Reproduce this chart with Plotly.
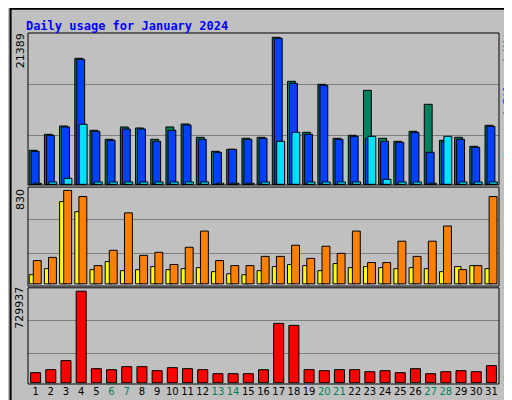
import plotly.graph_objects as go

days = list(range(1, 32))
hits = [4947, 7275, 8488, 18333, 7857, 6548, 8342, 8197, 6548, 8342, 8779, 6839, 4802, 5093, 6693, 6839,
        21389, 14987, 7566, 14550, 6693, 7130, 13677, 6693, 6257, 7712, 11640, 6402, 6839, 5529, 8585]
files = [4802, 7130, 8342, 18188, 7712, 6402, 8051, 8051, 6257, 7857, 8633, 6548, 4656, 5093, 6548, 6693,
         21243, 14696, 7275, 14405, 6548, 6984, 6693, 6257, 6111, 7566, 4656, 6257, 6548, 5384, 8439]
pages = [150, 340, 873, 8730, 340, 340, 340, 340, 340, 340, 340, 340, 150, 150, 150, 340,
         6257, 7566, 340, 340, 340, 340, 6984, 727, 340, 340, 150, 6984, 340, 340, 340]
visits = [207, 235, 830, 776, 162, 298, 631, 253, 280, 172, 325, 469, 207, 162, 162, 244,
          244, 343, 226, 334, 271, 469, 189, 189, 379, 244, 379, 514, 126, 162, 776]
sites = [81, 135, 731, 641, 126, 198, 117, 126, 153, 126, 135, 144, 108, 90, 81, 117,
         153, 171, 162, 117, 180, 144, 153, 144, 135, 144, 135, 108, 153, 162, 135]
kbytes = [80220, 104286, 176484, 729937, 112308, 104286, 128352, 128352, 96264, 120330, 112308, 104286,
          72198, 72198, 72198, 104286, 473298, 457254, 104286, 96264, 104286, 104286, 88242, 96264,
          80220, 112308, 72198, 88242, 96264, 88242, 136374]
weekends = [6, 7, 13, 14, 20, 21, 27, 28]

fig = go.Figure()
line = dict(color='black', width=1)


def bars(y, color, offset, width, axis):
    fig.add_trace(go.Bar(x=days, y=y, marker=dict(color=color, line=line),
                         offset=offset, width=width, xaxis='x', yaxis=axis))


bars(hits, '#00805C', -0.42, 0.52, 'y')
bars(files, '#0040FF', -0.29, 0.52, 'y')
bars(pages, '#00E0FF', -0.13, 0.52, 'y')
bars(sites, '#FFFF00', -0.42, 0.42, 'y2')
bars(visits, '#FF8000', -0.15, 0.52, 'y2')
bars(kbytes, '#FF0000', -0.33, 0.66, 'y3')

ticktext = [f"<span style='color:#00805C'>{d}</span>" if d in weekends else str(d) for d in days]
grid = dict(showgrid=True, gridcolor='#808080', gridwidth=1, showticklabels=False, zeroline=False,
            ticks='')
fig.update_layout(
    width=512, height=400, margin=dict(l=20, r=21, t=25, b=24),
    paper_bgcolor='#C0C0C0', plot_bgcolor='#C0C0C0', barmode='overlay', showlegend=False,
    xaxis=dict(range=[0.5, 31.5], tickvals=days, ticktext=ticktext, showgrid=False, ticks='',
               tickangle=0, tickfont=dict(family='DejaVu Sans', size=10, color='black'), anchor='y3'),
    yaxis=dict(domain=[0.567, 1], range=[-100, 22019], tickvals=[7130, 14550], **grid),
    yaxis2=dict(domain=[0.279, 0.561], range=[-20, 860], tickvals=[271, 568], **grid),
    yaxis3=dict(domain=[0, 0.274], range=[-10000, 756742], tickvals=[232638, 497364], **grid),
    title=dict(text='<b>Daily usage for January 2024</b>', x=0.035, y=0.965, xanchor='left',
               font=dict(family='DejaVu Sans Mono', size=12, color='#0000FF')),
)

# panel frames
for y0, y1 in [(0.567, 1), (0.279, 0.561), (0, 0.274)]:
    fig.add_shape(type='rect', xref='paper', yref='paper', x0=0, x1=1, y0=y0, y1=y1,
                  line=dict(color='black', width=1))
fig.add_shape(type='rect', xref='paper', yref='paper', x0=-0.037, x1=1.04, y0=-0.066, y1=1.069,
              line=dict(color='black', width=2))

afont = dict(family='DejaVu Sans', size=11, color='black')
for text, y in [('21389', 0.951), ('830', 0.527), ('729937', 0.217)]:
    fig.add_annotation(text=text, xref='paper', yref='paper', x=-0.017, y=y, textangle=-90,
                       xanchor='center', yanchor='middle', showarrow=False, font=afont)

mfont = dict(family='DejaVu Sans Mono', size=11)
legends = [
    ("<span style='color:#00E0FF'>Pages</span> / <span style='color:#0040FF'>Files</span> / "
     "<span style='color:#00805C'>Hits</span>", 0.835),
    ("<span style='color:#FF8000'>Sites</span> / <span style='color:#FFFF00'>Visits</span>", 0.396),
    ("<span style='color:#FF0000'>KBytes</span>", 0.051),
]
for text, y in legends:
    fig.add_annotation(text=text, xref='paper', yref='paper', x=1.019, y=y, textangle=-90,
                       xanchor='center', yanchor='middle', showarrow=False, font=mfont)

fig.write_html("out.html")
